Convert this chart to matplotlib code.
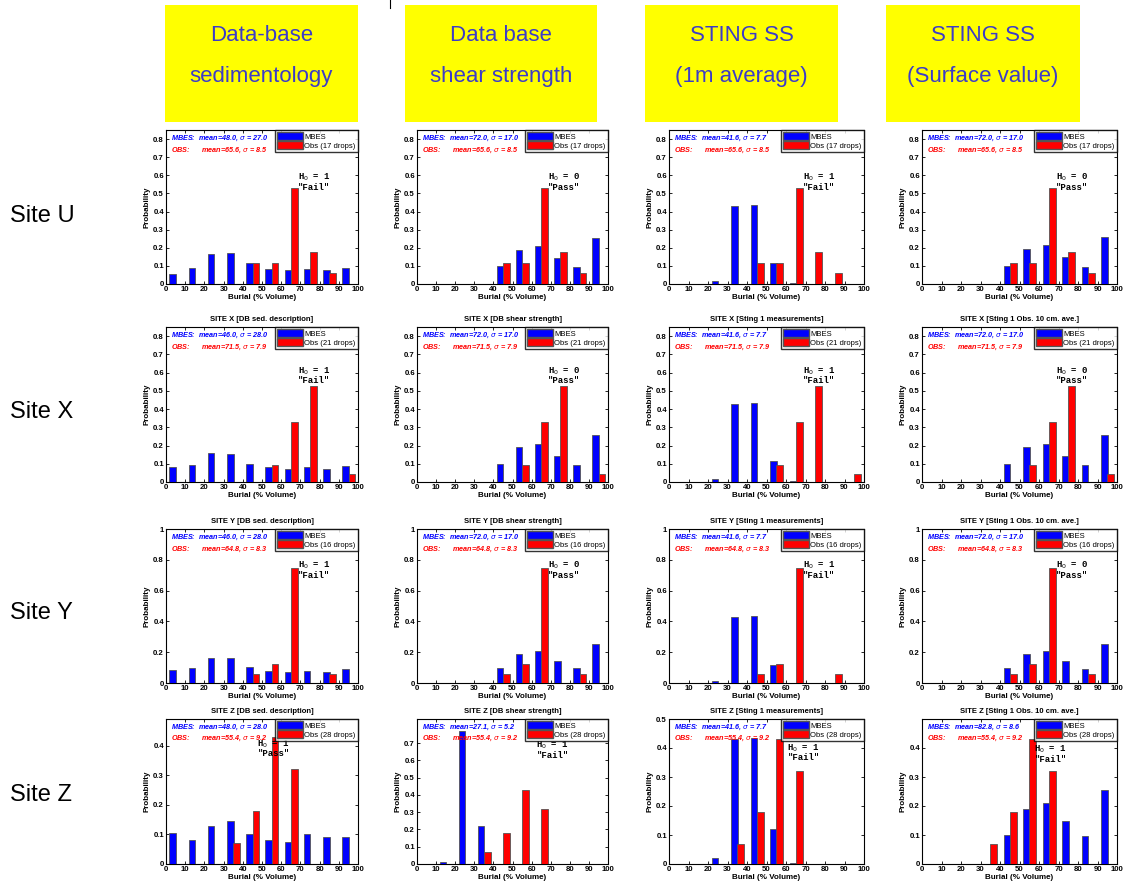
import matplotlib
matplotlib.use("Agg")
import matplotlib.pyplot as plt
import matplotlib.patches as mpatches
import numpy as np

# ---------------- data ----------------
bins = [0, 10, 20, 30, 40, 50, 60, 70, 80, 90]
rows = ["U", "X", "Y", "Z"]
headers = ["Data-base\nsedimentology", "Data base\nshear strength",
           "STING SS\n(1m average)", "STING SS\n(Surface value)"]
col_titles = ["DB sed. description", "DB shear strength",
              "Sting 1 measurements", "Sting 1 Obs. 10 cm. ave."]

mbes_U = [[0.055, 0.09, 0.165, 0.17, 0.115, 0.085, 0.075, 0.085, 0.075, 0.09],
          [0, 0, 0, 0, 0.10, 0.19, 0.21, 0.145, 0.095, 0.255],
          [0, 0, 0.015, 0.43, 0.435, 0.115, 0.003, 0, 0, 0],
          [0, 0, 0, 0, 0.10, 0.195, 0.215, 0.15, 0.095, 0.26]]
mbes_X = [[0.08, 0.095, 0.16, 0.155, 0.10, 0.08, 0.07, 0.08, 0.07, 0.09],
          [0, 0, 0, 0, 0.10, 0.19, 0.21, 0.145, 0.095, 0.255],
          [0, 0, 0.015, 0.43, 0.435, 0.115, 0.003, 0, 0, 0],
          [0, 0, 0, 0, 0.10, 0.19, 0.21, 0.145, 0.095, 0.255]]
mbes_Y = [[0.085, 0.095, 0.165, 0.16, 0.105, 0.08, 0.07, 0.08, 0.07, 0.09],
          [0, 0, 0, 0, 0.095, 0.19, 0.21, 0.145, 0.095, 0.255],
          [0, 0, 0.015, 0.43, 0.435, 0.115, 0.003, 0, 0, 0],
          [0, 0, 0, 0, 0.095, 0.19, 0.21, 0.145, 0.09, 0.255]]
mbes_Z = [[0.105, 0.08, 0.13, 0.145, 0.10, 0.08, 0.075, 0.10, 0.09, 0.09],
          [0, 0.01, 0.77, 0.22, 0, 0, 0, 0, 0, 0],
          [0, 0, 0.02, 0.43, 0.435, 0.12, 0.005, 0, 0, 0],
          [0, 0, 0, 0, 0.10, 0.19, 0.21, 0.15, 0.095, 0.255]]
mbes = [mbes_U, mbes_X, mbes_Y, mbes_Z]

obs_U = [0, 0, 0, 0, 0.115, 0.115, 0.53, 0.175, 0.06, 0]
obs_X = [0, 0, 0, 0, 0, 0.095, 0.33, 0.525, 0, 0.045]
obs_Y = [0, 0, 0, 0, 0.06, 0.125, 0.75, 0, 0.06, 0]
obs_Z = [0, 0, 0, 0.07, 0.18, 0.43, 0.32, 0, 0, 0]
obs = [obs_U, obs_X, obs_Y, obs_Z]
drops = [17, 21, 16, 28]

mbes_stats = [[("48.0", "27.0"), ("72.0", "17.0"), ("41.6", "7.7"), ("72.0", "17.0")],
              [("46.0", "28.0"), ("72.0", "17.0"), ("41.6", "7.7"), ("72.0", "17.0")],
              [("46.0", "28.0"), ("72.0", "17.0"), ("41.6", "7.7"), ("72.0", "17.0")],
              [("48.0", "28.0"), ("27.1", "5.2"), ("41.6", "7.7"), ("82.8", "8.6")]]
obs_stats = [("65.6", "8.5"), ("71.5", "7.9"), ("64.8", "8.3"), ("55.4", "9.2")]

h0_val = [[1, 0, 1, 0], [1, 0, 1, 0], [1, 0, 1, 0], [1, 1, 1, 1]]
h0_word = [["Fail", "Pass", "Fail", "Pass"], ["Fail", "Pass", "Fail", "Pass"],
           ["Fail", "Pass", "Fail", "Pass"], ["Pass", "Fail", "Fail", "Fail"]]

# ---------------- layout ----------------
W, H = 1129, 889
fig = plt.figure(figsize=(W / 100, H / 100), dpi=100)
fig.patch.set_facecolor("white")

col_x = [166, 417, 669, 922]
col_w = [192, 191, 195, 195]
row_top = [130, 327, 529, 719]
row_bot = [284, 482, 683, 864]

ylims = [[0.85] * 4, [0.85] * 4, [1.0] * 4, [0.49, 0.84, 0.5, 0.5]]
yticks = [[np.arange(0, 0.81, 0.1)] * 4, [np.arange(0, 0.81, 0.1)] * 4,
          [np.arange(0, 1.01, 0.2)] * 4,
          [np.arange(0, 0.41, 0.1), np.arange(0, 0.71, 0.1),
           np.arange(0, 0.51, 0.1), np.arange(0, 0.41, 0.1)]]
# H0 annotation anchors (data coords, center x, top y)
h0_pos = [[(77, 0.62), (77, 0.62), (77, 0.62), (77, 0.62)],
          [(77, 0.64), (77, 0.64), (77, 0.64), (77, 0.64)],
          [(77, 0.80), (77, 0.80), (77, 0.80), (77, 0.80)],
          [(56, 0.425), (71, 0.72), (69, 0.42), (66, 0.415)]]

sans = "Liberation Sans"
mono = "Liberation Mono"
tick_fs = 5.6

for r in range(4):
    for c in range(4):
        x0 = col_x[c] / W
        y0 = 1 - row_bot[r] / H
        w = col_w[c] / W
        h = (row_bot[r] - row_top[r]) / H
        ax = fig.add_axes([x0, y0, w, h])
        b = np.array(bins, dtype=float)
        ax.bar(b + 3.5, mbes[r][c], width=3.4, color="#0000ff",
               edgecolor="#555555", linewidth=0.6, zorder=3)
        ax.bar(b + 6.8, obs[r], width=3.4, color="#ff0000",
               edgecolor="#555555", linewidth=0.6, zorder=3)
        ax.set_xlim(0, 100)
        ax.set_ylim(0, ylims[r][c])
        ax.set_xticks(range(0, 101, 10))
        ax.set_yticks(yticks[r][c])
        ax.set_yticklabels([("%g" % v) for v in yticks[r][c]])
        for lab in ax.get_xticklabels() + ax.get_yticklabels():
            lab.set_fontsize(tick_fs)
            lab.set_fontweight("bold")
            lab.set_family(sans)
        ax.tick_params(direction="in", length=2, width=0.6, pad=1.5,
                       top=True, right=True)
        for s in ax.spines.values():
            s.set_linewidth(0.8)
        ax.set_xlabel("Burial (% Volume)", fontsize=5.8, fontweight="bold",
                      family=sans, labelpad=1)
        ax.set_ylabel("Probability", fontsize=5.8, fontweight="bold",
                      family=sans, labelpad=2)
        if r > 0:
            ax.set_title("SITE %s [%s]" % (rows[r], col_titles[c]), fontsize=5.5,
                         fontweight="bold", family=sans, pad=4)
        ms, ss = mbes_stats[r][c]
        om, osd = obs_stats[r]
        ax.text(0.025, 0.975, "MBES:  mean=%s, $\\sigma$ = %s" % (ms, ss),
                transform=ax.transAxes, color="#0000ff", fontsize=5.2,
                fontstyle="italic", fontweight="bold", family=sans, va="top")
        ax.text(0.025, 0.9, "OBS:      mean=%s, $\\sigma$ = %s" % (om, osd),
                transform=ax.transAxes, color="#ff0000", fontsize=5.2,
                fontstyle="italic", fontweight="bold", family=sans, va="top")
        handles = [mpatches.Patch(facecolor="#0000ff", edgecolor="#555555", label="MBES"),
                   mpatches.Patch(facecolor="#ff0000", edgecolor="#555555",
                                  label="Obs (%d drops)" % drops[r])]
        leg = ax.legend(handles=handles, loc="upper right",
                        frameon=True, fancybox=False, borderaxespad=0.0,
                        handlelength=3.3, handleheight=1.15, handletextpad=0.25,
                        borderpad=0.3, labelspacing=0.08,
                        prop={"family": sans, "size": 5.5})
        leg.get_frame().set_edgecolor("black")
        leg.get_frame().set_linewidth(1.0)
        leg.set_zorder(6)
        hx, hy = h0_pos[r][c]
        ax.text(hx, hy, "H$_0$ = %d\n\"%s\"" % (h0_val[r][c], h0_word[r][c]),
                fontsize=6.4, fontweight="bold", family=mono, ha="center",
                va="top", linespacing=0.95, zorder=5)

# header boxes
head_x = [165, 405, 645, 886]
head_w = [193, 192, 193, 194]
for c in range(4):
    hax = fig.add_axes([head_x[c] / W, 1 - 122 / H, head_w[c] / W, 117 / H])
    hax.set_facecolor("#ffff00")
    hax.set_xticks([])
    hax.set_yticks([])
    for s in hax.spines.values():
        s.set_visible(False)
    l1, l2 = headers[c].split("\n")
    hax.text(0.5, 0.74, l1, ha="center", va="center", fontsize=16,
             color="#3c3cc8", family=sans, transform=hax.transAxes)
    hax.text(0.5, 0.385, l2, ha="center", va="center", fontsize=16,
             color="#3c3cc8", family=sans, transform=hax.transAxes)

# row labels
row_y = [216, 412, 613, 795]
for r in range(4):
    fig.text(10 / W, 1 - row_y[r] / H, "Site %s" % rows[r], fontsize=17,
             family=sans, ha="left", va="center")

# small mark at top
fig.add_artist(plt.Line2D([390 / W, 390 / W], [1.0, 1 - 8 / H], color="black",
                          linewidth=0.8, transform=fig.transFigure))

fig.savefig("out.png", dpi=100)
